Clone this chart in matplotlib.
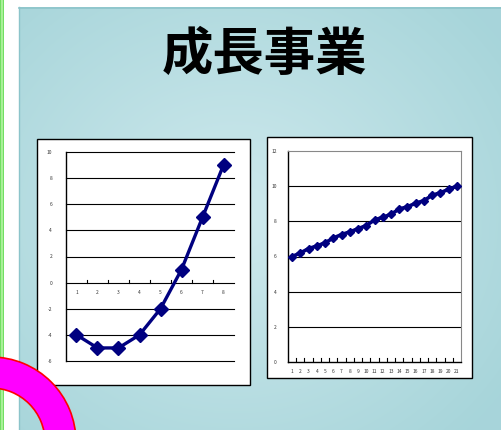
import numpy as np
import matplotlib
matplotlib.use("Agg")
import matplotlib.pyplot as plt
from matplotlib.patches import Rectangle, Wedge

plt.rcParams['font.family'] = ['Noto Sans CJK JP', 'DejaVu Sans']

# ---- data ----
title = "成長事業"
left_categories = [1, 2, 3, 4, 5, 6, 7, 8]
left_values = [-4, -5, -5, -4, -2, 1, 5, 9]
left_yticks = [-6, -4, -2, 0, 2, 4, 6, 8, 10]

right_categories = list(range(1, 22))
right_values = [6.0, 6.2, 6.45, 6.6, 6.78, 7.05, 7.25, 7.4, 7.58, 7.76, 8.08,
                8.23, 8.4, 8.7, 8.83, 9.03, 9.18, 9.48, 9.63, 9.82, 10.0]
right_yticks = [0, 2, 4, 6, 8, 10, 12]

W, H = 502, 430
fig = plt.figure(figsize=(W / 100, H / 100), dpi=100)
fig.patch.set_facecolor("white")


def px_axes(x0, y0, x1, y1, **kw):
    """Axes placed by pixel box (top-left origin)."""
    return fig.add_axes([x0 / W, 1 - y1 / H, (x1 - x0) / W, (y1 - y0) / H], **kw)


# ---- slide background ----
bg = px_axes(0, 0, W, H)
bg.set_xlim(0, W)
bg.set_ylim(H, 0)
bg.axis("off")

bg.add_patch(Rectangle((0, 0), 4.5, H, color="#72df62", lw=0))
bg.add_patch(Rectangle((1.5, 0), 1.5, H, color="#a8f098", lw=0))

yy, xx = np.mgrid[0:H - 7, 0:W - 19]
cx, cy = 215, 210
r = np.sqrt(((xx - cx) / 330.0) ** 2 + ((yy - cy) / 300.0) ** 2)
r = np.clip(r, 0, 1)
c_in = np.array([0.81, 0.915, 0.93])
c_out = np.array([0.655, 0.835, 0.855])
img = c_in[None, None, :] * (1 - r[..., None]) + c_out[None, None, :] * r[..., None]
bg.imshow(img, extent=(19, W, H, 7), aspect="auto", zorder=0, interpolation="bilinear")
bg.plot([19, W], [7.5, 7.5], color="#8cc4ca", lw=1.2, zorder=1)
bg.plot([19.5, 19.5], [7, H], color="#8cc4ca", lw=1.0, zorder=1)

bg.text(264, 54, title, ha="center", va="center", fontsize=37,
        fontweight="bold", color="black", zorder=2)

# chart frames
bg.add_patch(Rectangle((37, 139), 213, 246, facecolor="white",
                       edgecolor="black", lw=1.0, zorder=2))
bg.add_patch(Rectangle((267, 137), 205, 241, facecolor="white",
                       edgecolor="black", lw=1.0, zorder=2))

navy = "#000080"

# ---- left chart ----
ax1 = px_axes(66, 152, 234, 361)
ax1.set_facecolor("none")
ax1.set_xlim(0.5, len(left_categories) + 0.5)
ax1.set_ylim(left_yticks[0], left_yticks[-1])
for s in ["top", "right", "bottom"]:
    ax1.spines[s].set_visible(False)
ax1.spines["left"].set_linewidth(1.0)
for v in left_yticks:
    ax1.axhline(v, color="black", lw=0.8, zorder=1, clip_on=False)
ax1.set_yticks(left_yticks)
ax1.set_yticklabels([str(v) for v in left_yticks], fontsize=3.5, color="#333333")
ax1.tick_params(axis="y", length=0, pad=10)
ax1.set_xticks([])
for i in range(1, len(left_categories)):
    ax1.plot([i + 0.5, i + 0.5], [0, 0.18], color="black", lw=0.8, zorder=2)
for c in left_categories:
    ax1.text(c, -0.75, str(c), ha="center", va="center", fontsize=3.5, color="#333333")
ax1.plot(left_categories, left_values, color=navy, lw=2.4, marker="D",
         markersize=7, markerfacecolor=navy, markeredgecolor=navy, zorder=3,
         clip_on=False)

# ---- right chart ----
ax2 = px_axes(288, 151, 461, 362)
ax2.set_facecolor("none")
ax2.set_xlim(0.5, len(right_categories) + 0.5)
ax2.set_ylim(right_yticks[0], right_yticks[-1])
ax2.spines["top"].set_color("#888888")
ax2.spines["right"].set_color("#888888")
ax2.spines["top"].set_linewidth(0.8)
ax2.spines["right"].set_linewidth(0.8)
ax2.spines["left"].set_linewidth(1.0)
ax2.spines["bottom"].set_linewidth(1.0)
for v in right_yticks[1:-1]:
    ax2.axhline(v, color="black", lw=0.8, zorder=1)
ax2.set_yticks(right_yticks)
ax2.set_yticklabels([str(v) for v in right_yticks], fontsize=3.5, color="#333333")
ax2.tick_params(axis="y", length=0, pad=8)
ax2.set_xticks(right_categories)
ax2.set_xticklabels([str(c) for c in right_categories], fontsize=3.5, color="#333333")
ax2.tick_params(axis="x", length=0, pad=5)
for i in range(1, len(right_categories)):
    ax2.plot([i + 0.5, i + 0.5], [0, 0.2], color="black", lw=0.8, zorder=2)
ax2.plot(right_categories, right_values, color=navy, lw=2.6, marker="D",
         markersize=4, markerfacecolor=navy, markeredgecolor=navy, zorder=3)

# ---- decorative ring ----
fg = px_axes(0, 0, W, H)
fg.set_xlim(0, W)
fg.set_ylim(H, 0)
fg.axis("off")
fg.patch.set_alpha(0)
fg.add_patch(Wedge((-9, 442), 85, 0, 360, width=31, facecolor="#ff00ff",
                   edgecolor="#ff0000", lw=1.2, zorder=5))

fig.savefig("out.png", dpi=100)
